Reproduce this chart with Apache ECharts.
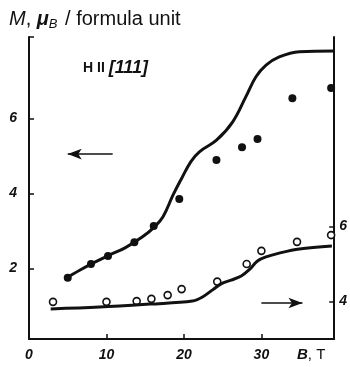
<!DOCTYPE html>
<html>
<head>
<meta charset="utf-8">
<script src="https://cdn.jsdelivr.net/npm/echarts@6/dist/echarts.min.js"></script>
<style>
  html, body { margin: 0; padding: 0; background: #fff; }
  #chart { width: 350px; height: 367px; }
</style>
</head>
<body>
<div id="chart"></div>
<script>
// Magnetization of the compound along H || [111] versus field B (T)

// Measured points, left scale (filled circles): [B, M]
const filledB = [5.0, 8.0, 10.2, 13.6, 16.1, 19.4, 24.2, 27.5, 29.5, 34.0, 39.0];
const filledM = [1.75, 2.12, 2.33, 2.70, 3.13, 3.85, 4.89, 5.23, 5.45, 6.54, 6.81];

// Calculated curve, left scale
const curveUpperB = [4.6, 6.6, 8.5, 10.4, 12.4, 14.7, 16.2, 17.3, 18.6, 19.7, 20.9, 22.0, 24.2, 26.3, 28.0, 29.3, 30.6, 32.3, 34.9, 39.4];
const curveUpperM = [1.72, 1.96, 2.17, 2.36, 2.55, 2.85, 3.11, 3.38, 3.96, 4.40, 4.85, 5.11, 5.42, 5.91, 6.58, 7.11, 7.42, 7.64, 7.78, 7.80];

// Measured points, right scale (open circles)
const openB = [3.1, 10.0, 13.9, 15.8, 17.9, 19.7, 24.3, 28.1, 30.0, 34.6, 39.0];
const openM = [3.99, 3.99, 4.01, 4.07, 4.17, 4.33, 4.53, 5.00, 5.35, 5.59, 5.77];

// Calculated curve, right scale
const curveLowerB = [2.8, 9.1, 15.6, 21.1, 22.4, 23.7, 24.8, 26.1, 27.4, 28.4, 29.5, 30.6, 32.3, 34.9, 39.1];
const curveLowerM = [3.80, 3.85, 3.93, 4.01, 4.12, 4.31, 4.47, 4.57, 4.68, 4.84, 5.08, 5.19, 5.29, 5.40, 5.48];

// Axis ticks
const xTicks = [10, 20, 30];
const xLabels = [0, 10, 20, 30];
const leftTicks = [2, 4, 6];
const rightTicks = [4, 6];

// Arrows telling which scale each curve belongs to, [B, M] on the left scale
const arrowLeft = [[10.8, 5.05], [5.0, 5.05]];
const arrowRight = [[30.0, 1.08], [35.3, 1.08]];

const zip = (a, b) => a.map((v, i) => [v, b[i]]);

const X_MIN = 0, X_MAX = 39.4;
const L_MIN = 0.12, L_MAX = 8.17;
const R_MIN = 3.0, R_MAX = 11.05;

const ink = '#111';
const numFont = { fontFamily: 'Liberation Sans Narrow, Liberation Sans, Arial', fontWeight: 'bold', fontStyle: 'italic', fontSize: 14, color: ink };

const chart = echarts.init(document.getElementById('chart'), null, { renderer: 'canvas' });

chart.setOption({
  animation: false,
  backgroundColor: '#fff',
  grid: { left: 29, right: 15, top: 37, bottom: 28, containLabel: false },
  title: [
    {
      left: 4, top: 3,
      text: '{m|M}{n|, }{mu|μ}{sub|B}{n| / formula unit}',
      textStyle: {
        fontWeight: 'normal',
        rich: {
          m: { fontFamily: 'Liberation Sans', fontStyle: 'italic', fontWeight: 'normal', fontSize: 20, color: ink },
          n: { fontFamily: 'Liberation Sans', fontWeight: 'normal', fontSize: 20, color: ink },
          mu: { fontFamily: 'Liberation Sans', fontStyle: 'italic', fontWeight: 'bold', fontSize: 20, color: ink },
          sub: { fontFamily: 'Liberation Sans', fontStyle: 'italic', fontWeight: 'normal', fontSize: 13, color: ink, padding: [10, 2, 0, 0] }
        }
      }
    },
    {
      left: 78, top: 54,
      text: '{h|H II }{d|[111]}',
      textStyle: {
        rich: {
          h: { fontFamily: 'Liberation Sans Narrow, Liberation Sans', fontWeight: 'bold', fontSize: 14, color: ink },
          d: { fontFamily: 'Liberation Sans Narrow, Liberation Sans', fontWeight: 'bold', fontStyle: 'italic', fontSize: 18, color: ink }
        }
      }
    },
    {
      left: 292, top: 342,
      text: '{b|B}{n|, T}',
      textStyle: {
        rich: {
          b: { fontFamily: 'Liberation Sans', fontWeight: 'bold', fontStyle: 'italic', fontSize: 15, color: ink },
          n: { fontFamily: 'Liberation Sans', fontWeight: 'normal', fontSize: 15, color: ink }
        }
      }
    }
  ],
  xAxis: {
    type: 'value', min: X_MIN, max: X_MAX,
    axisLine: { show: true, onZero: false, lineStyle: { color: ink, width: 2 } },
    axisTick: { show: true, inside: true, length: 5, customValues: xTicks, lineStyle: { color: ink, width: 1.5 } },
    axisLabel: { customValues: xLabels, margin: 9, ...numFont },
    splitLine: { show: false }
  },
  yAxis: [
    {
      type: 'value', min: L_MIN, max: L_MAX, position: 'left',
      axisLine: { show: true, onZero: false, lineStyle: { color: ink, width: 2 } },
      axisTick: { show: true, inside: true, length: 5, customValues: leftTicks.concat([L_MAX]), lineStyle: { color: ink, width: 1.5 } },
      axisLabel: { customValues: leftTicks, margin: 12, ...numFont },
      splitLine: { show: false }
    },
    {
      type: 'value', min: R_MIN, max: R_MAX, position: 'right',
      axisLine: { show: true, onZero: false, lineStyle: { color: ink, width: 2 } },
      axisTick: { show: true, inside: true, length: 5, customValues: rightTicks, lineStyle: { color: ink, width: 1.5 } },
      axisLabel: { customValues: rightTicks, margin: 5, ...numFont },
      splitLine: { show: false }
    }
  ],
  series: [
    {
      type: 'line', name: 'calc-upper', yAxisIndex: 0,
      data: zip(curveUpperB, curveUpperM),
      smooth: 0.4, showSymbol: false,
      lineStyle: { color: ink, width: 3 },
      markLine: {
        silent: true, symbol: ['none', 'arrow'], symbolSize: [8, 14],
        label: { show: false },
        lineStyle: { color: ink, width: 1.5, type: 'solid' },
        data: [
          [{ coord: arrowLeft[0] }, { coord: arrowLeft[1] }],
          [{ coord: arrowRight[0] }, { coord: arrowRight[1] }]
        ]
      }
    },
    {
      type: 'scatter', name: 'exp-upper', yAxisIndex: 0,
      data: zip(filledB, filledM),
      symbol: 'circle', symbolSize: 8,
      itemStyle: { color: ink, opacity: 1 }
    },
    {
      type: 'line', name: 'calc-lower', yAxisIndex: 1,
      data: zip(curveLowerB, curveLowerM),
      smooth: 0.35, showSymbol: false,
      lineStyle: { color: ink, width: 3 }
    },
    {
      type: 'scatter', name: 'exp-lower', yAxisIndex: 1,
      data: zip(openB, openM),
      symbol: 'circle', symbolSize: 7,
      itemStyle: { color: '#fff', borderColor: ink, borderWidth: 1.6, opacity: 1 }
    }
  ]
});
</script>
</body>
</html>
